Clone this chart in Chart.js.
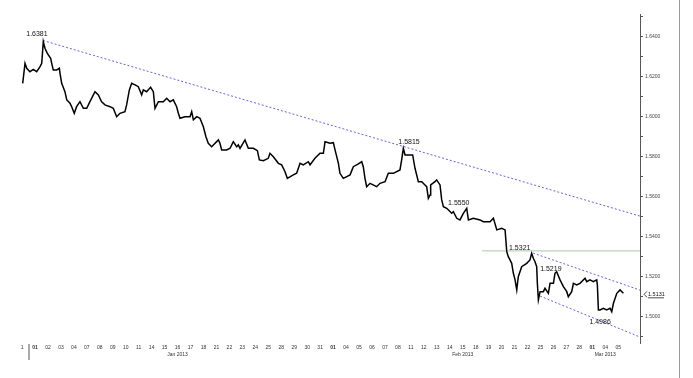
<!DOCTYPE html>
<html>
<head>
<meta charset="utf-8">
<script src="https://cdn.jsdelivr.net/npm/chart.js@4/dist/chart.umd.min.js"></script>
<style>
  html, body { margin: 0; padding: 0; background: #ffffff; }
  #wrap { width: 693px; height: 378px; position: relative; }
</style>
</head>
<body>
<div id="wrap"><canvas id="c" width="693" height="378"></canvas></div>
<script>
// ---- DATA ----
// trading-day position (0 = 01 Jan 2013, -1 = 31 Dec 2012)
const t = [
  -0.95,-0.77,-0.64,-0.39,-0.13,0.13,0.39,0.52,0.64,0.77,
  0.95,1.21,1.29,1.41,1.67,1.88,1.93,2.06,2.31,2.45,
  2.70,2.83,3.03,3.21,3.47,3.73,3.99,4.24,4.63,4.89,
  5.14,5.40,5.79,6.04,6.30,6.56,6.94,7.07,7.28,7.46,
  7.72,7.97,8.23,8.36,8.61,8.92,9.13,9.26,9.52,9.90,
  10.16,10.42,10.67,10.93,11.06,11.19,11.57,11.96,12.09,12.22,
  12.48,12.73,12.99,13.19,13.37,
  13.63,13.76,14.15,14.27,14.40,14.79,15.05,15.30,15.56,15.69,
  15.82,16.20,16.46,16.85,17.16,17.31,17.62,18.00,18.13,18.39,
  18.78,19.03,19.29,19.47,19.93,20.19,20.45,20.70,21.09,21.22,
  21.60,21.99,22.25,22.38,22.76,23.02,23.15,23.41,23.53,23.79,
  24.31,24.56,24.95,25.21,25.33,25.46,25.59,25.85,26.36,26.62,
  27.01,27.26,27.65,28.16,28.29,28.42,28.55,29.14,29.32,29.58,
  29.84,30.09,30.22,30.35,30.48,30.53,30.86,30.99,31.25,31.38,
  31.51,31.77,32.15,32.28,32.54,32.79,33.05,33.31,33.44,33.82,
  34.34,34.59,35.11,35.37,35.63,36.01,36.27,36.40,36.52,
  36.65,36.78,36.91,37.04,37.17,37.29,37.55,37.94,38.19,38.32,
  38.45,38.58,38.71,38.76,38.84,38.97,39.22,39.35,39.61,39.74,
  40.00,40.12,40.25,40.51,40.77,41.03,41.15,41.41,41.54,41.80,
  42.05,42.44,42.57,42.82,43.08,43.34,43.39,43.47,43.60,43.85,
  44.11,44.37,44.50,44.63,44.89,45.14,45.40
];
const price = [
  1.6167,1.6267,1.6242,1.6225,1.6237,1.6225,1.6250,1.6267,1.6375,1.6342,
  1.6317,1.6292,1.6267,1.6234,1.6234,1.6242,1.6217,1.6167,1.6125,1.6084,
  1.6067,1.6050,1.6017,1.6050,1.6075,1.6042,1.6042,1.6075,1.6125,1.6109,
  1.6075,1.6059,1.6050,1.6042,1.6000,1.6017,1.6025,1.6059,1.6134,1.6167,
  1.6159,1.6150,1.6109,1.6134,1.6125,1.6147,1.6125,1.6042,1.6075,1.6075,
  1.6092,1.6075,1.6084,1.6050,1.6017,1.5992,1.6000,1.6000,1.6025,1.5984,
  1.6000,1.5992,1.5950,1.5900,1.5867,
  1.5850,1.5859,1.5884,1.5867,1.5834,1.5834,1.5842,1.5875,1.5850,1.5859,
  1.5842,1.5884,1.5842,1.5842,1.5830,1.5784,1.5780,1.5792,1.5817,1.5800,
  1.5767,1.5759,1.5725,1.5692,1.5709,1.5717,1.5767,1.5759,1.5775,1.5759,
  1.5792,1.5817,1.5817,1.5875,1.5867,1.5870,1.5834,1.5767,1.5717,1.5692,
  1.5709,1.5750,1.5764,1.5775,1.5750,1.5692,1.5650,1.5667,1.5650,1.5667,
  1.5675,1.5717,1.5717,1.5734,1.5784,1.5842,1.5809,1.5809,1.5742,1.5675,
  1.5675,1.5659,1.5650,1.5592,1.5609,1.5659,1.5675,1.5684,1.5659,1.5584,
  1.5550,1.5542,1.5517,1.5525,1.5492,1.5484,1.5517,1.5542,1.5484,1.5492,
  1.5484,1.5475,1.5475,1.5492,1.5434,1.5442,1.5434,1.5325,1.5300,
  1.5284,1.5267,1.5217,1.5184,1.5134,1.5200,1.5250,1.5267,1.5284,1.5317,
  1.5292,1.5275,1.5250,1.5167,1.5084,1.5125,1.5125,1.5142,1.5117,1.5167,
  1.5167,1.5217,1.5225,1.5184,1.5150,1.5125,1.5100,1.5125,1.5167,1.5159,
  1.5167,1.5192,1.5175,1.5184,1.5175,1.5184,1.5159,1.5034,1.5034,1.5042,
  1.5034,1.5042,1.5025,1.5067,1.5117,1.5134,1.5117
];

// x-axis day labels, first one is 31 Dec (shown clipped as "1")
const dayLabels = ['1',
  '01','02','03','04','07','08','09','10','11','14','15','16','17','18','21','22','23','24','25','28','29','30','31',
  '01','04','05','06','07','08','11','12','13','14','15','18','19','20','21','22','25','26','27','28',
  '01','04','05'];
const monthDays = ['16', '15', '04'];     // day under which month label sits (per month)
const monthNames = ['Jan 2013', 'Feb 2013', 'Mar 2013'];

// trend lines [t0, p0, t1, p1]
const trendMain  = [0.62, 1.6381, 46.68, 1.5503];
const channelTop = [38.43, 1.5318, 46.68, 1.5133];
const channelBot = [38.97, 1.5103, 46.68, 1.4898];
const levelLine  = [34.5, 1.5329, 46.68, 1.5329];

// price annotations
const noteText  = ['1.6381', '1.5815', '1.5550', '1.5321', '1.5219', '1.4986'];
const noteT     = [0.15, 28.86, 32.7, 37.4, 39.8, 43.6];
const noteP     = [1.6414, 1.5874, 1.5569, 1.5344, 1.5238, 1.4974];
const lastLabel = '1.5131';

// ---- CHART ----
const series = t.slice(0, Math.min(t.length, price.length)).map((v, i) => ({x: v, y: price[i]}));
const seg = a => [{x: a[0], y: a[1]}, {x: a[2], y: a[3]}];

let monthCounter = -1;
const tickLabelFor = [];
dayLabels.forEach((d, i) => {
  if (d === '01' && i > 0) monthCounter++;
  let lab = d;
  if (monthCounter >= 0 && d === monthDays[monthCounter]) lab = [d, monthNames[monthCounter]];
  tickLabelFor.push(lab);
});

const extras = {
  id: 'extras',
  afterDraw(chart) {
    const ctx = chart.ctx, xs = chart.scales.x, ys = chart.scales.y, ca = chart.chartArea;
    ctx.save();
    ctx.fillStyle = '#111';
    ctx.font = '7px "Liberation Sans", Arial, sans-serif';
    ctx.textAlign = 'center';
    ctx.textBaseline = 'middle';
    noteText.forEach((s, i) => {
      ctx.fillText(s, xs.getPixelForValue(noteT[i]), ys.getPixelForValue(noteP[i]));
    });
    const last = series[series.length - 1];
    const ly = ys.getPixelForValue(last.y);
    ctx.font = '5.5px "Liberation Sans", Arial, sans-serif';
    ctx.textAlign = 'left';
    ctx.fillText(lastLabel, ca.right + 8, ly + 1);
    ctx.strokeStyle = '#222';
    ctx.lineWidth = 0.8;
    ctx.beginPath();
    ctx.moveTo(ca.right + 8, ly + 4.5); ctx.lineTo(ca.right + 24, ly + 4.5);
    ctx.moveTo(ca.right + 7, ly - 2); ctx.lineTo(ca.right + 4, ly + 1); ctx.lineTo(ca.right + 7, ly + 4);
    ctx.stroke();
    ctx.strokeStyle = '#9a9a9a';
    ctx.lineWidth = 1;
    ctx.beginPath();
    ctx.moveTo(ca.right + 39.5, 0); ctx.lineTo(ca.right + 39.5, chart.height);
    ctx.stroke();
    ctx.strokeStyle = '#555';
    ctx.beginPath();
    ctx.moveTo(xs.getPixelForValue(-0.5) + 0.5, ca.bottom + 1);
    ctx.lineTo(xs.getPixelForValue(-0.5) + 0.5, ca.bottom + 17);
    ctx.stroke();
    ctx.restore();
  }
};

const dash = { borderDash: [2, 2], borderWidth: 1, pointRadius: 0, fill: false };
const FAM = '"Liberation Sans", Arial, sans-serif';

new Chart(document.getElementById('c'), {
  type: 'line',
  data: {
    datasets: [
      { data: series, borderColor: '#000', borderWidth: 1.5, pointRadius: 0, tension: 0, fill: false },
      Object.assign({ data: seg(trendMain),  borderColor: '#6666dd' }, dash),
      Object.assign({ data: seg(channelTop), borderColor: '#6666dd' }, dash),
      Object.assign({ data: seg(channelBot), borderColor: '#6666dd' }, dash),
      { data: seg(levelLine), borderColor: '#a9c8b2', borderWidth: 1, pointRadius: 0, fill: false }
    ]
  },
  options: {
    animation: false,
    responsive: false,
    layout: { padding: { left: 20, top: 14, right: 0, bottom: 0 } },
    plugins: { legend: { display: false }, tooltip: { enabled: false } },
    scales: {
      x: {
        type: 'linear',
        min: -1.157, max: 46.68,
        grid: { display: false, drawTicks: false, tickLength: 0 },
        border: { display: false },
        afterBuildTicks: s => { s.ticks = dayLabels.map((_, i) => ({ value: i - 1 })); },
        afterFit: s => { s.height = 35; },
        ticks: {
          autoSkip: false, maxRotation: 0, minRotation: 0, padding: 1,
          color: '#333',
          font: c => ({ size: 5, family: FAM, lineHeight: 1.35,
                        weight: (c && c.tick && dayLabels[Math.round(c.tick.value) + 1] === '01') ? 'bold' : 'normal' }),
          callback: v => tickLabelFor[Math.round(v) + 1]
        }
      },
      y: {
        type: 'linear',
        position: 'right',
        min: 1.48685, max: 1.65135,
        border: { display: true, color: '#555', width: 1 },
        grid: { drawOnChartArea: false, tickLength: 3, color: '#555' },
        afterFit: s => { s.width = 53; },
        ticks: {
          stepSize: 0.01, includeBounds: false, padding: 2,
          color: '#444',
          font: { size: 5, family: FAM },
          callback: v => (Math.round(v * 100) % 2 === 0) ? v.toFixed(4) : ''
        }
      }
    }
  },
  plugins: [extras]
});
</script>
</body>
</html>
